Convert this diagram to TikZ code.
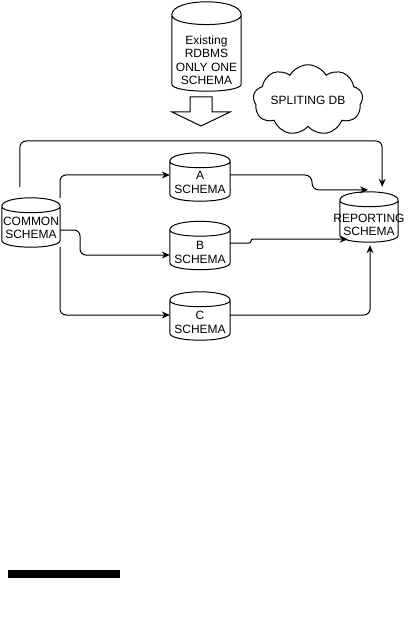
\documentclass[tikz,border=0pt]{standalone}
\usepackage{fontspec}
\setmainfont{Liberation Sans}
\usetikzlibrary{calc,arrows.meta,shapes.symbols}
\tikzset{
  cylbox/.style={rectangle, inner sep=0pt, minimum width=#1},
  cylline/.style={draw=black, fill=white, line width=1pt},
  lbl/.style={font=\fontsize{12}{13.5}\selectfont, align=center, inner sep=0pt},
  conn/.style={draw=black, line width=1pt, rounded corners=6pt, -{Stealth[length=8pt,width=7pt]}},
}
\newcommand{\drawcyl}[3]{%
  \draw[cylline] let \p1=(#1.north west), \p2=(#1.south east) in
   (\x1,\y1-#2) .. controls (\x1,\y1+#2/3) and (\x2,\y1+#2/3) .. (\x2,\y1-#2)
   -- (\x2,\y2+#3) .. controls (\x2,\y2-#3/3) and (\x1,\y2-#3/3) .. (\x1,\y2+#3) -- cycle
   (\x1,\y1-#2) .. controls (\x1,\y1-2*#2) and (\x2,\y1-2*#2) .. (\x2,\y1-#2);
}
\begin{document}
\begin{tikzpicture}[x=1pt,y=-1pt]
\useasboundingbox (0,0) rectangle (407,639);
% cylinder boxes
\node[cylbox=69pt, minimum height=89pt] (rdbms) at (206.5,46.5) {};
\node[cylbox=58pt, minimum height=49pt] (common) at (31,222.5) {};
\node[cylbox=60pt, minimum height=48pt] (a) at (200,177) {};
\node[cylbox=60pt, minimum height=48pt] (b) at (200,245.5) {};
\node[cylbox=60pt, minimum height=48pt] (c) at (200,316) {};
\node[cylbox=58pt, minimum height=50pt] (rep) at (369,217) {};
\drawcyl{rdbms}{13pt}{7pt}
\drawcyl{common}{8.5pt}{7pt}
\drawcyl{a}{8.5pt}{7pt}
\drawcyl{b}{8.5pt}{7pt}
\drawcyl{c}{8.5pt}{7pt}
\drawcyl{rep}{8.5pt}{7pt}
% labels
\node[lbl] (rdbmsl) at (206.5,60) {Existing\\RDBMS\\ONLY ONE\\SCHEMA};
\node[lbl] (commonl) at (31,228) {COMMON\\SCHEMA};
\node[lbl] (al) at (200,182.5) {A\\SCHEMA};
\node[lbl] (bl) at (200,252.5) {B\\SCHEMA};
\node[lbl] (cl) at (200,322.5) {C\\SCHEMA};
\node[lbl] (repl) at (369,225) {REPORTING\\SCHEMA};
% block arrow
\draw[line width=1pt, fill=white] (190,97) -- (212,97) -- (212,112) -- (230,112) -- (201,126) -- (172,112) -- (190,112) -- cycle;
% cloud
\node[cloud, draw, line width=1pt, cloud puffs=9, cloud puff arc=120, aspect=2,
      minimum width=100pt, minimum height=50pt, inner sep=0pt, lbl] (cloud) at (308,100) {SPLITING DB};
% connectors
\draw[conn] ($(common.north west)+(18,-11)$) -- (20,141) -- (382,141) -- ($(rep.north east)+(-16,-5)$);
\draw[conn] (common.north east) -- (60,175) -- ($(a.west)+(0,-2)$);
\draw[conn] ($(common.east)+(0,7.5)$) -- (80,230) -- (80,255) -- ($(b.west)+(0,9.5)$);
\draw[conn] (common.south east) -- (60,315) -- ($(c.west)+(0,-1)$);
\draw[conn, rounded corners=7pt] ($(a.east)+(0,-2)$) -- (312,175) -- (312,190) -- ($(rep.north)+(-1,-2)$);
\draw[conn, rounded corners=2pt] ($(b.east)+(0,-2.5)$) -- (251,243) -- (251,239) -- ($(rep.south west)+(8,-3)$);
\draw[conn] ($(c.east)+(0,-1)$) -- (370,315) -- ($(rep.south)+(1,3)$);
% bar
\fill[black] (8,570) rectangle (120,578);
\end{tikzpicture}
\end{document}
